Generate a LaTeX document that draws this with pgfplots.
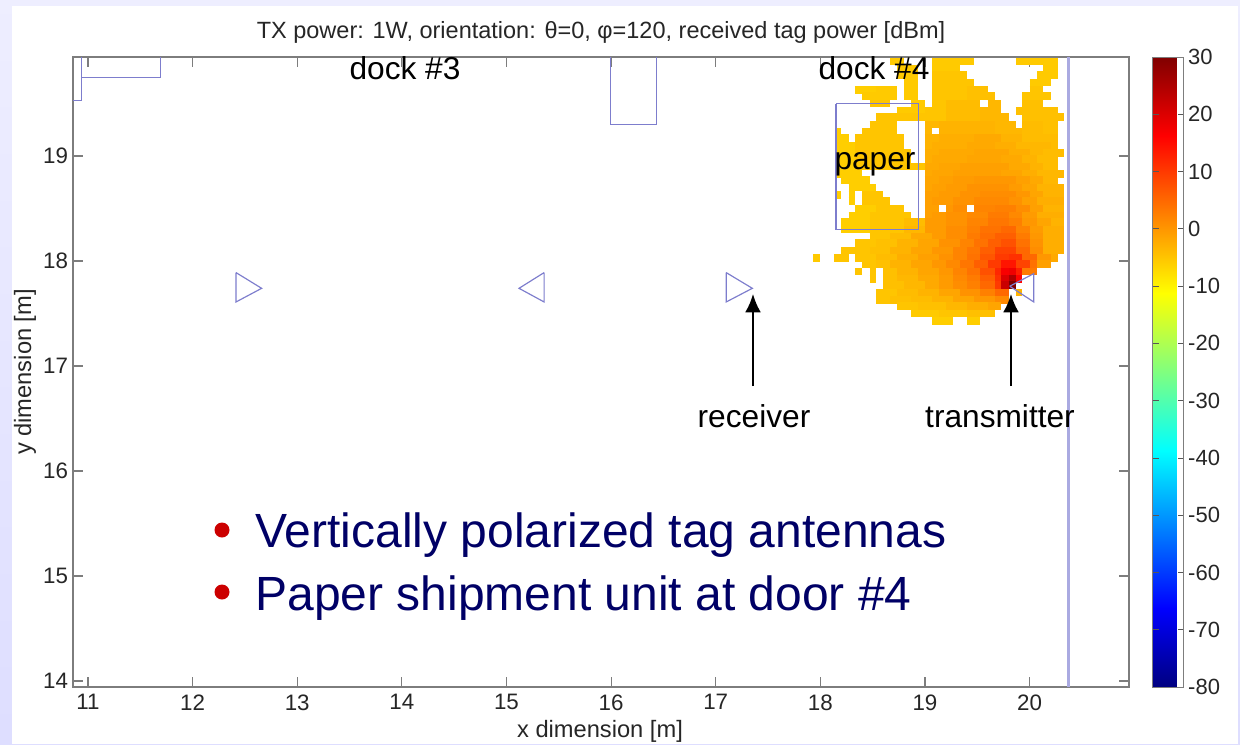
\documentclass[border=0pt]{standalone}
\usepackage{pgfplots}
\pgfplotsset{compat=1.18}
\usepackage{fontspec}
\setmainfont{Liberation Sans}
\usetikzlibrary{arrows.meta}
\definecolor{boxgray}{RGB}{125,125,125}
\definecolor{room}{RGB}{125,125,205}
\definecolor{wall}{RGB}{170,170,225}
\definecolor{navy}{RGB}{0,0,102}
\definecolor{bul}{RGB}{204,0,0}
\pgfplotstableread{
x0 x1 y c
18.67 18.80 19.90 -5.5
19.07 19.47 19.90 -5.5
19.87 20.27 19.90 -5.5
18.73 18.93 19.83 -5.5
19.07 19.33 19.83 -5.5
20.13 20.27 19.83 -5.5
18.73 18.93 19.77 -5.5
19.07 19.40 19.77 -5
20.07 20.27 19.77 -5.5
18.80 18.93 19.70 -5.5
19.07 19.47 19.70 -5
20.00 20.20 19.70 -5.5
18.33 18.53 19.63 -6
18.53 18.73 19.63 -5.5
18.80 18.93 19.63 -5.5
19.07 19.40 19.63 -5
19.40 19.60 19.63 -4.5
20.00 20.13 19.63 -5
18.40 18.73 19.57 -5.5
18.80 18.93 19.57 -5.5
19.07 19.40 19.57 -5
19.40 19.67 19.57 -4.5
19.93 20.20 19.57 -5
18.47 18.67 19.50 -5
18.87 19.00 19.50 -5.5
19.07 19.20 19.50 -5
19.20 19.53 19.50 -4
19.60 19.73 19.50 -3.5
19.93 20.13 19.50 -4.5
18.73 19.00 19.43 -5.5
19.00 19.20 19.43 -5
19.20 19.53 19.43 -4
19.53 19.73 19.43 -3.5
19.87 20.27 19.43 -4.5
18.53 19.20 19.37 -5
19.20 19.53 19.37 -4
19.53 19.80 19.37 -3.5
19.93 20.33 19.37 -4.5
18.47 18.73 19.30 -5
19.00 19.13 19.30 -3.5
19.13 19.67 19.30 -3
19.67 19.87 19.30 -3.5
19.93 20.13 19.30 -4
20.13 20.27 19.30 -4.5
18.15 18.20 19.23 -6
18.40 18.73 19.23 -5
19.00 19.07 19.23 -3.5
19.13 19.67 19.23 -3
19.67 19.93 19.23 -3.5
19.93 20.13 19.23 -4
20.13 20.27 19.23 -4.5
18.15 18.27 19.17 -6
18.33 18.80 19.17 -5
19.00 19.13 19.17 -3
19.13 19.47 19.17 -2.5
19.47 19.73 19.17 -2
19.73 19.93 19.17 -3
19.93 20.27 19.17 -4
18.15 18.33 19.10 -6
18.33 18.80 19.10 -5
19.00 19.07 19.10 -3
19.07 19.40 19.10 -2.5
19.40 19.67 19.10 -2
19.67 19.87 19.10 -2.5
19.87 20.20 19.10 -3.5
20.20 20.27 19.10 -4
18.15 18.33 19.03 -6
18.33 18.87 19.03 -5
19.00 19.13 19.03 -2.5
19.13 19.47 19.03 -2
19.47 19.80 19.03 -1.5
19.80 20.00 19.03 -2.5
20.00 20.13 19.03 -3.5
20.13 20.33 19.03 -4
18.15 18.33 18.97 -6
18.33 18.87 18.97 -5
19.00 19.07 18.97 -2.5
19.07 19.40 18.97 -2
19.40 19.73 18.97 -1.5
19.73 19.93 18.97 -2
19.93 20.07 18.97 -3
20.07 20.27 18.97 -4
18.15 18.33 18.90 -6
18.33 19.00 18.90 -5
19.00 19.13 18.90 -2
19.13 19.33 18.90 -1.5
19.33 19.80 18.90 -1
19.80 20.00 18.90 -2
20.00 20.13 18.90 -3
20.13 20.27 18.90 -4
18.15 18.40 18.83 -6
19.00 19.07 18.83 -2
19.07 19.27 18.83 -1.5
19.27 19.73 18.83 -1
19.73 19.93 18.83 -1.5
19.93 20.07 18.83 -2.5
20.07 20.33 18.83 -3.5
18.20 18.47 18.77 -6
19.00 19.13 18.77 -1.5
19.13 19.27 18.77 -1
19.27 19.47 18.77 -0.5
19.47 19.87 18.77 0
19.87 20.00 18.77 -1
20.00 20.13 18.77 -2
20.13 20.27 18.77 -3.5
18.27 18.53 18.70 -6
19.00 19.07 18.70 -1.5
19.07 19.20 18.70 -1
19.20 19.40 18.70 -0.5
19.40 19.80 18.70 0.5
19.80 19.93 18.70 -0.5
19.93 20.07 18.70 -1.5
20.07 20.33 18.70 -3
18.15 18.20 18.63 -6
18.27 18.33 18.63 -6
18.40 18.60 18.63 -5
19.00 19.13 18.63 -1
19.13 19.33 18.63 -0.5
19.33 19.53 18.63 0.5
19.53 19.87 18.63 1
19.87 20.00 18.63 0
20.00 20.13 18.63 -1.5
20.13 20.33 18.63 -3
18.27 18.33 18.57 -6
18.40 18.67 18.57 -5
19.00 19.07 18.57 -1
19.07 19.27 18.57 -0.5
19.27 19.47 18.57 0.5
19.47 19.80 18.57 1.5
19.80 19.93 18.57 0.5
19.93 20.07 18.57 -1
20.07 20.33 18.57 -2.5
18.33 18.53 18.50 -6
18.53 18.80 18.50 -5
19.00 19.13 18.50 -1
19.20 19.27 18.50 0
19.27 19.40 18.50 1
19.47 19.67 18.50 2
19.67 19.87 18.50 2.5
19.87 20.00 18.50 1
20.00 20.13 18.50 -1
20.13 20.33 18.50 -3
18.27 18.47 18.43 -6
18.47 18.87 18.43 -5
19.00 19.07 18.43 -1
19.07 19.20 18.43 -0.5
19.20 19.40 18.43 0.5
19.40 19.60 18.43 1.5
19.60 19.80 18.43 3
19.80 19.93 18.43 1.5
19.93 20.07 18.43 -0.5
20.07 20.33 18.43 -2.5
18.20 18.47 18.37 -6
18.47 18.80 18.37 -5
18.80 19.00 18.37 -4
19.00 19.20 18.37 -0.5
19.20 19.40 18.37 0.5
19.40 19.60 18.37 2
19.60 19.80 18.37 3.5
19.80 19.93 18.37 2.5
19.93 20.07 18.37 0
20.07 20.20 18.37 -1.5
20.20 20.33 18.37 -3
18.20 18.47 18.30 -6
18.47 18.80 18.30 -5
18.80 19.00 18.30 -3.5
19.00 19.20 18.30 -0.5
19.20 19.40 18.30 1
19.40 19.53 18.30 2.5
19.53 19.73 18.30 4
19.73 19.87 18.30 5
19.87 20.00 18.30 2
20.00 20.13 18.30 -0.5
20.13 20.33 18.30 -2.5
18.47 18.67 18.23 -5
18.67 18.87 18.23 -4
18.87 19.07 18.23 -2
19.07 19.20 18.23 -0.5
19.20 19.40 18.23 1
19.40 19.53 18.23 3
19.53 19.67 18.23 4.5
19.67 19.87 18.23 6
19.87 20.00 18.23 3
20.00 20.13 18.23 0
20.13 20.33 18.23 -2.5
18.33 18.53 18.17 -5
18.53 18.73 18.17 -4.5
18.73 18.93 18.17 -3
18.93 19.13 18.17 -1.5
19.13 19.33 18.17 0.5
19.33 19.47 18.17 2
19.47 19.60 18.17 4
19.60 19.73 18.17 6
19.73 19.87 18.17 7.5
19.87 20.00 18.17 4
20.00 20.13 18.17 0.5
20.13 20.33 18.17 -2.5
18.20 18.47 18.10 -5
18.47 18.67 18.10 -4.5
18.67 18.87 18.10 -3
18.87 19.07 18.10 -1.5
19.07 19.27 18.10 0
19.27 19.40 18.10 2
19.40 19.53 18.10 3.5
19.53 19.67 18.10 6
19.67 19.87 18.10 9
19.87 20.00 18.10 5
20.00 20.13 18.10 1
20.13 20.33 18.10 -2.5
17.93 18.00 18.03 -5.5
18.13 18.27 18.03 -5
18.33 18.53 18.03 -5
18.53 18.73 18.03 -4
18.73 18.93 18.03 -2.5
18.93 19.13 18.03 -1
19.13 19.27 18.03 0.5
19.27 19.40 18.03 2
19.40 19.53 18.03 4
19.53 19.67 18.03 7
19.67 19.80 18.03 10
19.80 19.93 18.03 11
19.93 20.07 18.03 5
20.07 20.20 18.03 0
20.20 20.27 18.03 -2
18.40 18.53 17.97 -5
18.53 18.67 17.97 -4.5
18.67 18.87 17.97 -3
18.87 19.07 17.97 -1.5
19.07 19.20 17.97 0
19.20 19.33 17.97 1.5
19.33 19.47 17.97 3.5
19.47 19.60 17.97 6
19.60 19.73 17.97 10
19.73 19.87 17.97 14
19.87 20.00 17.97 9
20.00 20.07 17.97 4
20.07 20.20 17.97 -1
18.33 18.40 17.90 -5
18.47 18.53 17.90 -5
18.60 18.73 17.90 -4.5
18.73 18.93 17.90 -3
18.93 19.13 17.90 -1.5
19.13 19.27 17.90 0
19.27 19.40 17.90 2
19.40 19.53 17.90 4
19.53 19.67 17.90 7.5
19.67 19.73 17.90 12
19.73 19.80 17.90 17
19.80 19.87 17.90 18
19.87 19.93 17.90 13
19.93 20.07 17.90 3
18.47 18.53 17.83 -5
18.60 18.73 17.83 -4.5
18.73 18.93 17.83 -3.5
18.93 19.13 17.83 -2
19.13 19.27 17.83 -0.5
19.27 19.40 17.83 1.5
19.40 19.53 17.83 3
19.53 19.67 17.83 6
19.67 19.73 17.83 11
19.73 19.80 17.83 20
19.80 19.87 17.83 25
19.87 19.93 17.83 16
18.60 18.80 17.77 -4.5
18.80 19.00 17.77 -3.5
19.00 19.13 17.77 -2
19.13 19.27 17.77 -0.5
19.27 19.40 17.77 1
19.40 19.53 17.77 2.5
19.53 19.67 17.77 5
19.67 19.73 17.77 10
19.73 19.80 17.77 22
19.80 19.87 17.77 30
18.53 18.73 17.70 -5
18.73 18.93 17.70 -4
18.93 19.13 17.70 -3
19.13 19.33 17.70 -1.5
19.33 19.53 17.70 0.5
19.53 19.67 17.70 2.5
19.67 19.80 17.70 5
19.87 19.93 17.70 -3
18.53 18.67 17.63 -5
18.67 18.87 17.63 -4.5
18.87 19.07 17.63 -4
19.07 19.27 17.63 -3
19.27 19.47 17.63 -1.5
19.47 19.67 17.63 0
19.67 19.80 17.63 1.5
18.73 18.93 17.57 -5
18.93 19.20 17.57 -4.5
19.20 19.40 17.57 -3.5
19.40 19.60 17.57 -2.5
19.60 19.73 17.57 -1.5
18.87 19.13 17.50 -5.5
19.13 19.40 17.50 -5
19.40 19.67 17.50 -4.5
19.07 19.27 17.43 -6
19.40 19.53 17.43 -6
}\fieldruns
\begin{document}
\begin{tikzpicture}[x=0.6pt,y=-0.6pt]
\path[use as bounding box] (0,0) rectangle (1240,744);
\shade[top color=white!85!blue!45,bottom color=blue!13] (0,0) rectangle (1240,744);
\fill[white] (12,6) rectangle (1238,744);
\begin{axis}[
  at={(43.8pt,-412.2pt)},anchor=south west,
  scale only axis,width=633.6pt,height=378pt,
  xmin=10.857,xmax=20.95,ymin=13.943,ymax=19.943,
  axis line style={boxgray,line width=0.8pt},
  tick style={boxgray,line width=0.7pt},
  major tick length=6pt,
  tick align=inside,tick pos=both,
  xtick={11,12,13,14,15,16,17,18,19,20},
  xticklabels={11,12,13,14,15,16,17,18,19,20},
  ytick={14,15,16,17,18,19},
  yticklabels={14,15,16,17,18,19},
  x tick label style={yshift=-1pt},
  y tick label style={xshift=0.5pt},
  tick label style={font=\fontsize{13.4}{15}\selectfont,text=black!85},
  colormap/jet,
  point meta min=-80,point meta max=30,
  colorbar,
  colorbar style={
    at={(1.0227,0.5)},anchor=west,
    scale only axis,width=18.6pt,height=378pt,
    axis line style={boxgray,line width=0.6pt},
    tick style={boxgray!70!black,line width=0.5pt},
    major tick length=3.5pt,
    ytick={-80,-70,-60,-50,-40,-30,-20,-10,0,10,20,30},
    yticklabels={-80,-70,-60,-50,-40,-30,-20,-10,0,10,20,30},
    tick align=inside,
    ytick pos=both,
    yticklabel pos=right,
    y tick label style={font=\fontsize{13.2}{15}\selectfont,xshift=-1pt,text=black!85},
  },
]
\addplot[line width=4.5pt,quiver={u=\thisrow{x1}-\thisrow{x0},v=0,colored=mapped color},point meta=explicit]
  table[x=x0,y=y,meta=c] {\fieldruns};
\addplot[room,line width=0.6pt] coordinates {(10.857,19.533) (10.94,19.533) (10.94,19.943)};
\addplot[room,line width=0.6pt] coordinates {(10.94,19.75) (11.69,19.75) (11.69,19.943)};
\addplot[room,line width=0.6pt] coordinates {(15.99,19.943) (15.99,19.30) (16.43,19.30) (16.43,19.943)};
\addplot[room,line width=0.7pt] coordinates {(18.15,19.50) (18.94,19.50) (18.94,18.30) (18.15,18.30) (18.15,19.50)};
\addplot[wall,line width=1.5pt] coordinates {(20.37,13.943) (20.37,19.943)};
\addplot[room,line width=0.7pt] coordinates {(12.415,17.89) (12.66,17.74) (12.415,17.61) (12.415,17.89)};
\addplot[room,line width=0.7pt] coordinates {(15.36,17.89) (15.12,17.74) (15.36,17.61) (15.36,17.89)};
\addplot[room,line width=0.7pt] coordinates {(17.10,17.89) (17.35,17.74) (17.10,17.61) (17.10,17.89)};
\addplot[room,line width=0.7pt] coordinates {(19.81,17.76) (20.04,17.88) (20.04,17.61) (19.81,17.76)};
\end{axis}
\node[font=\fontsize{14.1}{16}\selectfont,text=black!85] at (601,32) {TX power: 1W, orientation: θ=0, φ=120, received tag power [dBm]};
\node[font=\fontsize{14.2}{16}\selectfont,text=black!85] at (600,731) {x dimension [m]};
\node[font=\fontsize{14.2}{16}\selectfont,text=black!85,rotate=90] at (25,372) {y dimension [m]};
\node[font=\fontsize{19}{21}\selectfont] at (405,68) {dock \#3};
\node[font=\fontsize{19}{21}\selectfont] at (874,68) {dock \#4};
\node[font=\fontsize{19}{21}\selectfont] at (875,164) {paper};
\node[font=\fontsize{19}{21}\selectfont] at (754,416) {receiver};
\node[font=\fontsize{19}{21}\selectfont] at (1000,416) {transmitter};
\draw[black,line width=1.2pt,-{Latex[length=11pt,width=9.5pt]}] (753,386) -- (753,294);
\draw[black,line width=1.2pt,-{Latex[length=11pt,width=9.5pt]}] (1011,386) -- (1011,294);
\fill[bul] (222,530) circle (7.5);
\fill[bul] (222,592) circle (7.5);
\node[anchor=base west,inner sep=0pt,text=navy,font=\fontsize{28.8}{30}\selectfont] at (255,547) {Vertically polarized tag antennas};
\node[anchor=base west,inner sep=0pt,text=navy,font=\fontsize{28.8}{30}\selectfont] at (255,610) {Paper shipment unit at door \#4};
\end{tikzpicture}
\end{document}
